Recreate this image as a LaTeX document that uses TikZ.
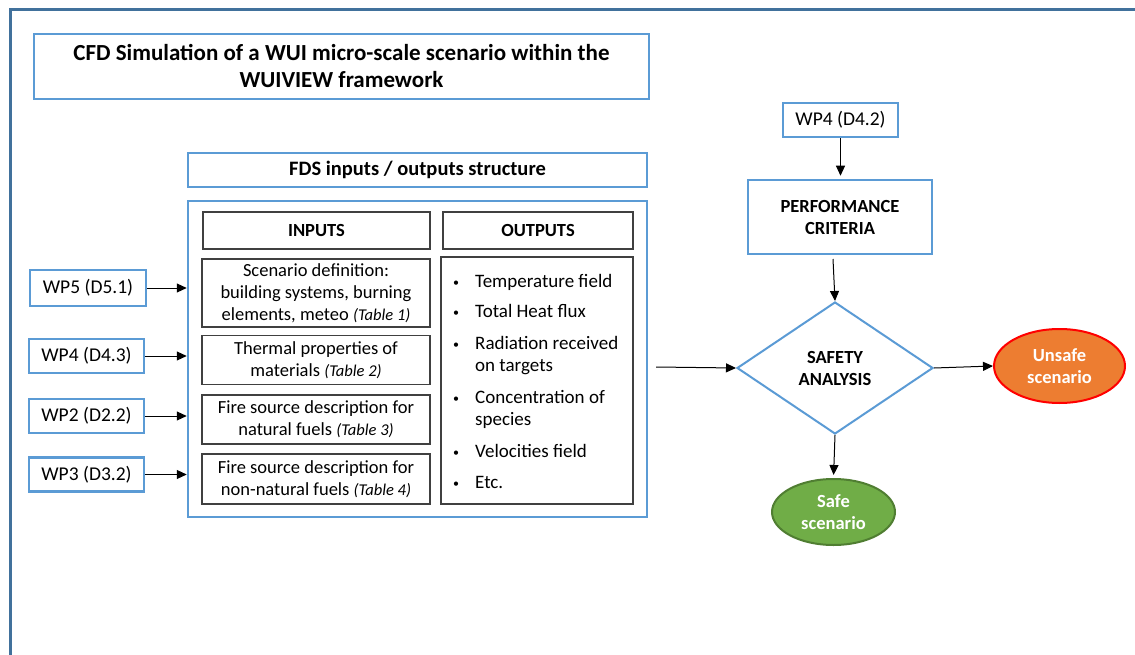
\documentclass[tikz,border=0pt]{standalone}
\usepackage{fontspec}
\setmainfont{Carlito}
\usetikzlibrary{shapes.geometric,arrows.meta}
\definecolor{frameblue}{HTML}{41719C}
\definecolor{boxblue}{HTML}{5B9BD5}
\definecolor{boxgray}{HTML}{404040}
\definecolor{unsafefill}{HTML}{ED7D31}
\definecolor{safefill}{HTML}{70AD47}
\definecolor{safedraw}{HTML}{507E32}
\newcommand{\tabref}[1]{{\fontsize{16.5}{22}\selectfont\itshape(#1)}}
\begin{document}
\begin{tikzpicture}[x=1pt,y=-1pt,
 bluebox/.style={draw=boxblue, line width=2.5pt, fill=white, inner sep=0pt, align=center},
 graybox/.style={draw=boxgray, line width=1.3pt, fill=white, inner sep=0pt, align=center},
 body/.style={font=\fontsize{18.5}{22}\selectfont},
 wptxt/.style={font=\fontsize{19.5}{22}\selectfont},
 head/.style={font=\fontsize{18.5}{22}\selectfont\bfseries},
 listtxt/.style={font=\fontsize{19}{22}\selectfont, anchor=base west, inner sep=0pt},
 bullet/.style={font=\fontsize{12}{12}\selectfont, anchor=base, inner sep=0pt},
 arr/.style={-{Triangle[length=10pt,width=9pt]}, line width=1pt, black},
]
\useasboundingbox (0,0) rectangle (1135,655);
% outer frame
\draw[frameblue, line width=3pt] (10,660) -- (10,10) -- (1140,10);

% title
\node[bluebox, minimum width=615pt, minimum height=65pt,
      font=\fontsize{23}{27}\selectfont\bfseries] (title) at (341.5,66.5)
  {CFD Simulation of a WUI micro-scale scenario within the\\WUIVIEW framework};

% FDS structure
\node[bluebox, font=\fontsize{20.5}{22}\selectfont\bfseries, minimum width=459pt, minimum height=34pt] (fdshead) at (417.5,170)
  {FDS inputs / outputs structure};
\node[bluebox, minimum width=459pt, minimum height=316pt] (big) at (417.5,359) {};

\node[graybox, head, minimum width=227pt, minimum height=37pt] (inputs) at (316.5,230.5) {INPUTS};
\node[graybox, head, minimum width=190pt, minimum height=37pt] (outputs) at (538,230.5) {OUTPUTS};

\node[graybox, body, minimum width=228pt, minimum height=68pt] (scen) at (316,293)
  {Scenario definition:\\building systems, burning\\elements, meteo \tabref{Table 1}};
\node[graybox, body, minimum width=228pt, minimum height=49pt] (therm) at (316,360)
  {Thermal properties of\\materials \tabref{Table 2}};
\node[graybox, body, minimum width=228pt, minimum height=49pt] (firenat) at (316,419.5)
  {Fire source description for\\natural fuels \tabref{Table 3}};
\node[graybox, body, minimum width=228pt, minimum height=50pt] (firenon) at (316,479)
  {Fire source description for\\non-natural fuels \tabref{Table 4}};

\node[graybox, minimum width=192pt, minimum height=247pt] (list) at (537,380.5) {};
\foreach \y/\t [count=\i] in {287/Temperature field, 317/Total Heat flux,
    349/Radiation received, 403/Concentration of, 457/Velocities field, 488/Etc.}
  { \node[bullet] (b\i) at (456,\y-1) {\textbullet};
    \node[listtxt] (l\i) at (475,\y) {\t}; }
\node[listtxt] (l3b) at (475,371) {on targets};
\node[listtxt] (l4b) at (475,425) {species};

% WP inputs
\node[bluebox, wptxt, minimum width=116pt, minimum height=36pt] (wp5) at (88,288) {WP5 (D5.1)};
\node[bluebox, wptxt, minimum width=115pt, minimum height=34pt] (wp4) at (86.5,356) {WP4 (D4.3)};
\node[bluebox, wptxt, minimum width=115pt, minimum height=34pt] (wp2) at (86.5,416) {WP2 (D2.2)};
\node[bluebox, wptxt, minimum width=115pt, minimum height=34pt] (wp3) at (86.5,474.5) {WP3 (D3.2)};
\foreach \w in {wp5,wp4,wp2,wp3}
  \draw[arr] (\w.east) -- (\w.east -| big.west);

% right side
\node[bluebox, wptxt, minimum width=115pt, minimum height=34pt] (wp42) at (840.5,120) {WP4 (D4.2)};
\node[bluebox, head, minimum width=184pt, minimum height=74pt] (perf) at (840,217)
  {PERFORMANCE\\CRITERIA};
\node[diamond, draw=boxblue, line width=2pt, fill=white, inner sep=0pt, aspect=1.48,
      minimum width=196pt, minimum height=132pt, align=center, head] (safety) at (835,368)
  {SAFETY\\ANALYSIS};
\node[ellipse, draw=red, line width=2pt, fill=unsafefill, text=white, head, align=center,
      minimum width=131pt, minimum height=74pt, inner sep=0pt] (unsafe) at (1059.5,366)
  {Unsafe\\scenario};
\node[ellipse, draw=safedraw, line width=2pt, fill=safefill, text=white, head, align=center,
      minimum width=123pt, minimum height=66pt, inner sep=0pt] (safe) at (833.5,512)
  {Safe\\scenario};

\coordinate (outstart) at (656,367);
\coordinate (perfout) at (833,259);
\draw[arr, shorten >=3pt] (wp42.south) -- (wp42.south |- perf.north);
\draw[arr] (perfout) -- (safety.north);
\draw[arr] (outstart) -- (safety.west);
\draw[arr] (safety.east) -- (unsafe.west);
\draw[arr, shorten >=3pt] (safety.south) -- (safe.north);
\end{tikzpicture}
\end{document}
